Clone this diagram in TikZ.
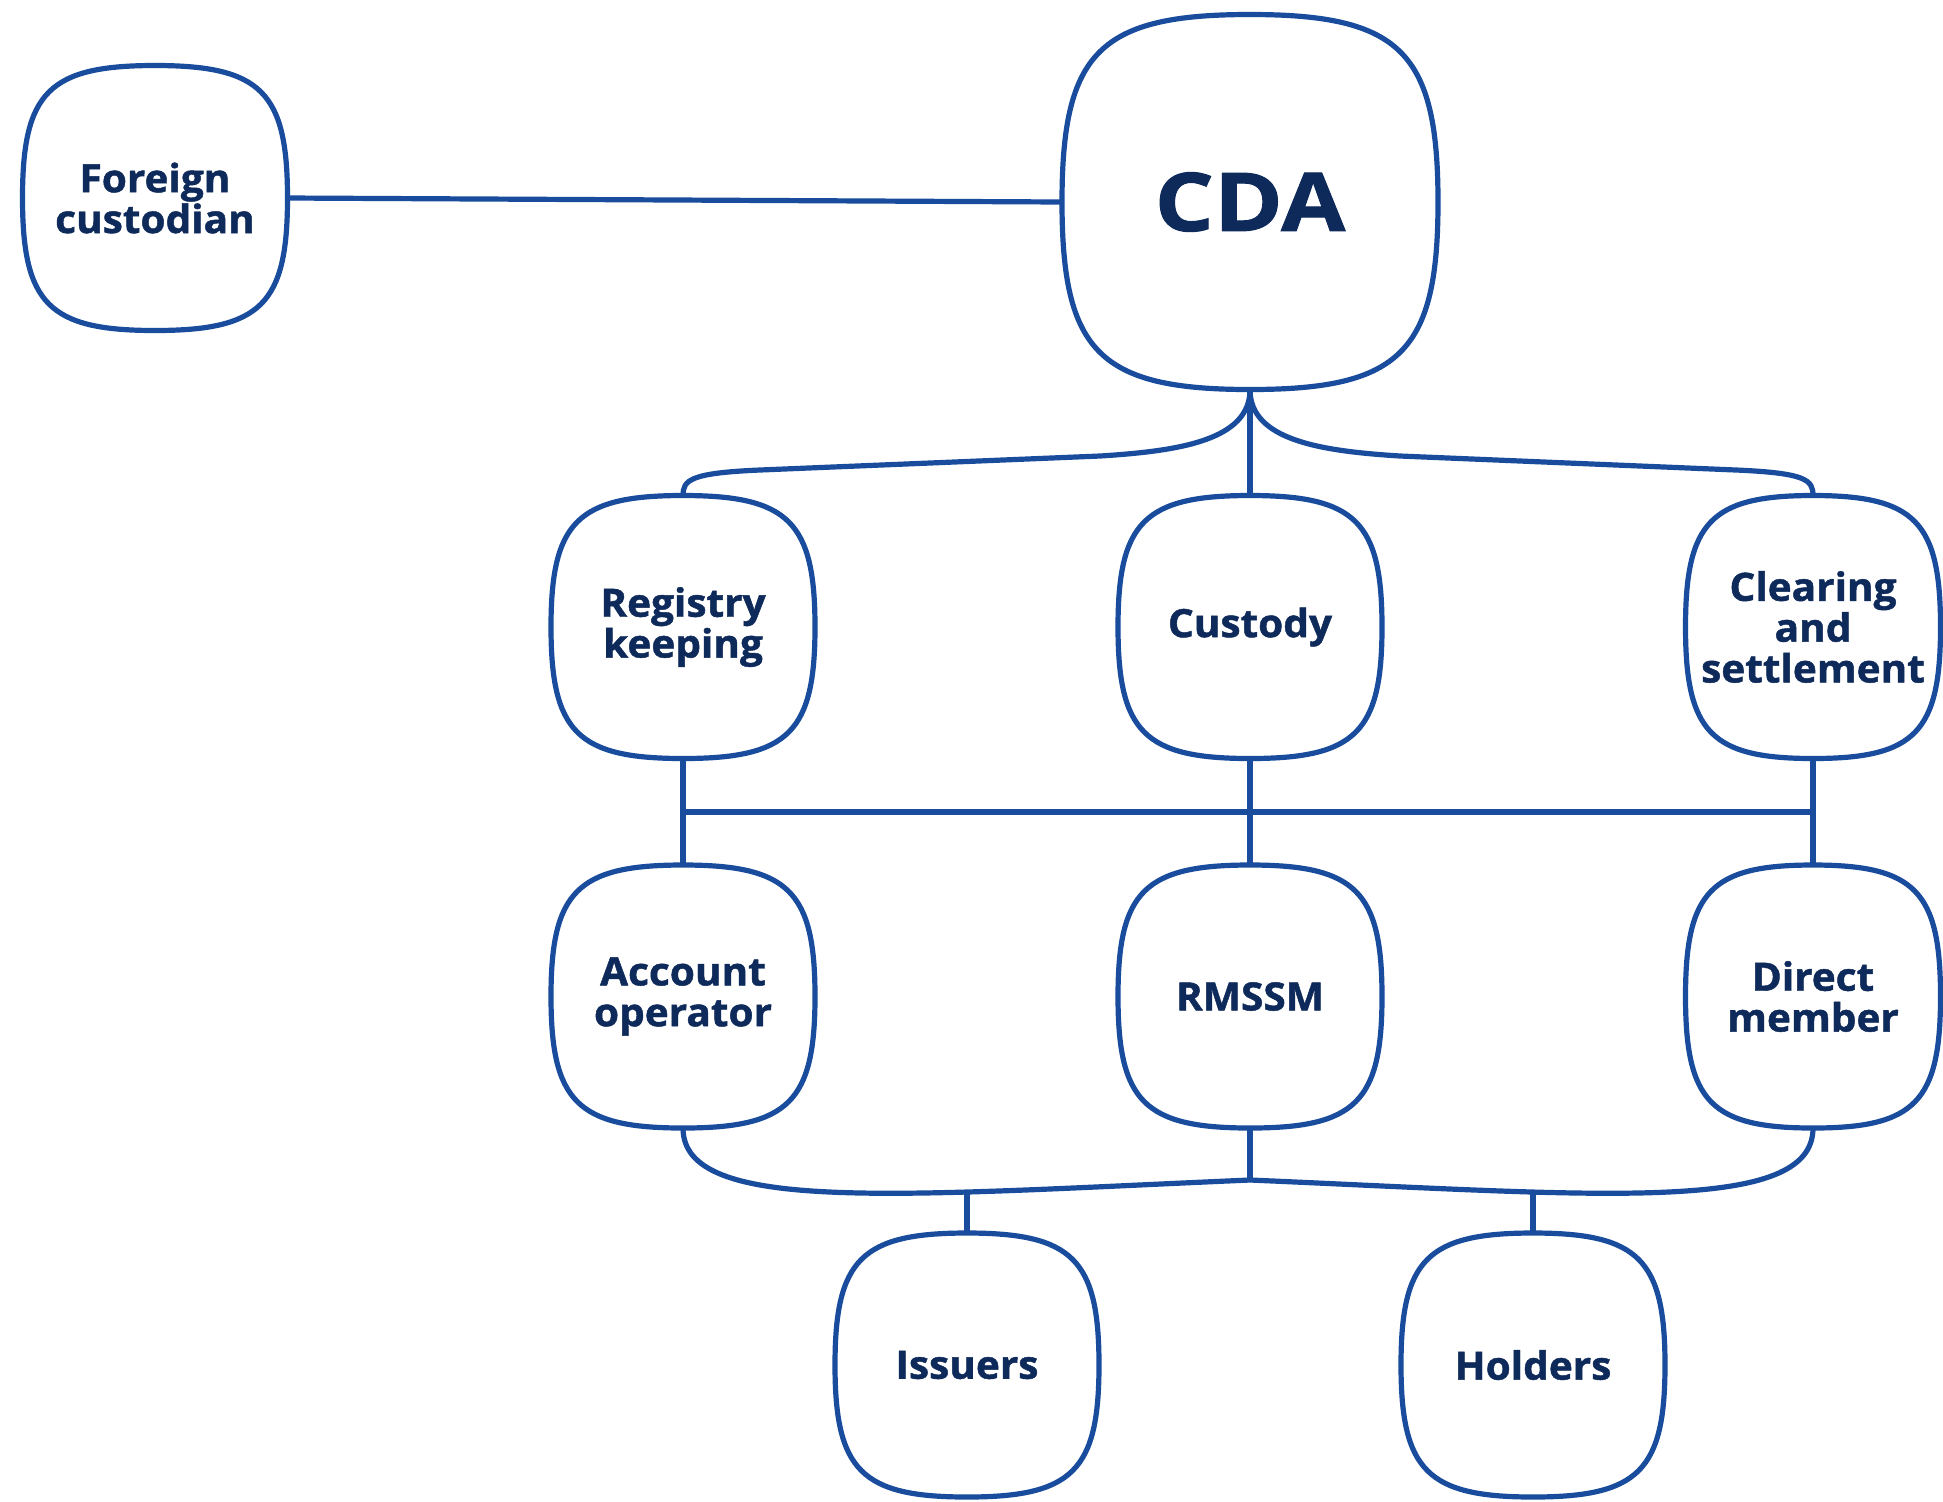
\documentclass[tikz,border=0pt]{standalone}
\usepackage{fontspec}
\setmainfont{Open Sans}[BoldFeatures={FakeBold=1.2}]
\usetikzlibrary{calc}
\definecolor{linec}{HTML}{1A4C9E}
\definecolor{txtc}{HTML}{0E2A5A}
\newcommand\boxfont{\bfseries\fontsize{19.5}{20.4}\selectfont\addfontfeature{FakeStretch=1.04}}
\newcommand\bigfont{\bfseries\fontsize{40.5}{44}\selectfont\addfontfeature{FakeStretch=1.15}}
\def\sqk{0.8}
\newcommand\sqbox[1]{%
  \draw[boxline] (#1.north)
    .. controls ($(#1.north)!\sqk!(#1.north east)$) and ($(#1.east)!\sqk!(#1.north east)$) .. (#1.east)
    .. controls ($(#1.east)!\sqk!(#1.south east)$) and ($(#1.south)!\sqk!(#1.south east)$) .. (#1.south)
    .. controls ($(#1.south)!\sqk!(#1.south west)$) and ($(#1.west)!\sqk!(#1.south west)$) .. (#1.west)
    .. controls ($(#1.west)!\sqk!(#1.north west)$) and ($(#1.north)!\sqk!(#1.north west)$) .. cycle;}
\tikzset{
  box/.style={draw=none, inner sep=0pt, outer sep=0pt, minimum width=132pt,
    minimum height=131.5pt, align=center, text=txtc, font=\boxfont},
  narrowbox/.style={box, minimum width=127.5pt},
  link/.style={draw=linec, line width=2.6pt},
  boxline/.style={draw=linec, line width=2.6pt}
}
\begin{document}
\begin{tikzpicture}[x=0.5pt, y=-0.5pt]
\fill[white] (0,0) rectangle (1943,1501);
\path[use as bounding box] (0,0) rectangle (1943,1501);
% nodes
\node[box, minimum width=132.5pt, minimum height=132.5pt] (fc) at (155,198) {Foreign\\custodian};
\node[box, minimum width=188pt, minimum height=187.5pt, font=\bigfont] (cda) at (1250,202) {CDA};
\node[box] (reg) at (683,627) {Registry\\keeping};
\node[box] (cus) at (1250,627) {Custody};
\node[narrowbox] (clr) at (1813,627) {Clearing\\and\\settlement};
\node[box] (acc) at (683,996.5) {Account\\operator};
\node[box] (rms) at (1250,996.5) {RMSSM};
\node[narrowbox] (dir) at (1813,996.5) {Direct\\member};
\node[box, minimum height=132pt] (iss) at (967,1365) {Issuers};
\node[box, minimum height=132pt] (hol) at (1533,1365) {Holders};
% junction coordinates
\coordinate (bus) at (0,812);
\coordinate (jm) at (1250,1180);
\coordinate (ji) at (967,1192);
\coordinate (jh) at (1533,1192);
% connectors
\draw[link] (fc.east) -- (cda.west);
\draw[link] (cda.south) -- (cus.north);
\draw[link] (cda.south) .. controls (1250,440) and (1180,451) .. (1100,456)
   -- (760,470) .. controls (690,473) and (683,480) .. (reg.north);
\draw[link] (cda.south) .. controls (1250,440) and (1320,451) .. (1400,456)
   -- (1736,470) .. controls (1806,473) and (1813,480) .. (clr.north);
\draw[link] (reg.south) -- (acc.north);
\draw[link] (cus.south) -- (rms.north);
\draw[link] (clr.south) -- (dir.north);
\draw[link] (reg.south |- bus) -- (clr.south |- bus);
\draw[link] (acc.south) .. controls (683,1215) and (900,1195) .. (jm);
\draw[link] (dir.south) .. controls (1813,1215) and (1600,1195) .. (jm);
\draw[link] (rms.south) -- (jm);
\draw[link] (iss.north) -- (ji);
\draw[link] (hol.north) -- (jh);
% box outlines
\sqbox{fc}\sqbox{cda}\sqbox{reg}\sqbox{cus}\sqbox{clr}
\sqbox{acc}\sqbox{rms}\sqbox{dir}\sqbox{iss}\sqbox{hol}
\end{tikzpicture}
\end{document}
